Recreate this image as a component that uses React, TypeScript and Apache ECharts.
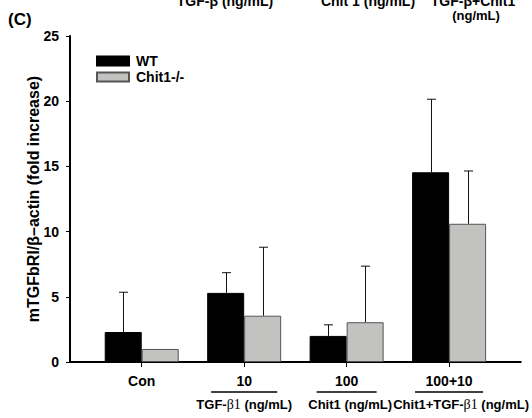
import React, { useEffect, useRef } from "react";
import * as echarts from "echarts";

// Treatment groups along the x axis
const categories = ["Con", "10", "100", "100+10"];
const treatmentNames = ["", "TGF-", "Chit1 (ng/mL)", "Chit1+TGF-"];
const underlineWidths = [0, 66, 60, 68];
const treatmentShift = [0, 0, 7, 24];

const seriesNames = ["WT", "Chit1-/-"];
// mTGFbRI / β-actin, fold increase (mean and SD)
const wtMean = [2.3, 5.3, 2.0, 14.55];
const wtSd = [3.05, 1.55, 0.85, 5.6];
const koMean = [1.0, 3.55, 3.05, 10.6];
const koSd = [0, 5.25, 4.3, 4.05];

const yMin = 0;
const yMax = 25;
const yStep = 5;

const X_MIN = -0.7;
const X_MAX = 3.7;

const FONT = "'Liberation Sans', Arial, sans-serif";
const BAR_W = 37;

export default function App() {
  const ref = useRef<HTMLDivElement>(null);

  useEffect(() => {
    if (!ref.current) return;
    const chart = echarts.init(ref.current, null, { renderer: "svg" });

    const catValues = categories.map((_, i) => i);

    const labelFor = (v: number) => {
      // the two end values only anchor the label row and stay blank
      if (v < -0.5 || v > categories.length - 0.5) return "";
      const i = Math.round(v);
      if (i === 0) return `{c|${categories[0]}}`;
      const name = treatmentNames[i];
      const body = name.endsWith("TGF-")
        ? `{s${i}|${name}}{b|β1}{s|${" (ng/mL)"}}`
        : `{s${i}|${name}}`;
      return `{c|${categories[i]}}\n{ln${i}|}\n${body}`;
    };

    const rich: Record<string, any> = {
      c: { fontFamily: FONT, fontWeight: "bold", fontSize: 14, lineHeight: 16, color: "#000" },
      s: { fontFamily: FONT, fontWeight: "bold", fontSize: 13, lineHeight: 18, color: "#000" },
      b: { fontFamily: "'Liberation Serif', serif", fontWeight: "normal", fontSize: 14, lineHeight: 18, color: "#000" },
    };
    for (let i = 1; i < categories.length; i++) {
      rich["ln" + i] = { width: underlineWidths[i], height: 1.5, backgroundColor: "#000", lineHeight: 6 };
      rich["s" + i] = {
        fontFamily: FONT, fontWeight: "bold", fontSize: 13, lineHeight: 18, color: "#000",
        padding: [0, 0, 0, treatmentShift[i]],
      };
    }

    const errData = [
      ...wtMean.map((m, i) => [i, m, wtSd[i], -1]),
      ...koMean.map((m, i) => [i, m, koSd[i], 1]),
    ];

    chart.setOption({
      animation: false,
      backgroundColor: "#fff",
      textStyle: { fontFamily: FONT },
      grid: { left: 70, right: 9, top: 36, bottom: 56 },
      legend: {
        left: 91,
        top: 49,
        orient: "vertical",
        itemWidth: 32,
        itemHeight: 9,
        itemGap: 2,
        icon: "rect",
        data: seriesNames,
        textStyle: { fontFamily: FONT, fontWeight: "bold", fontSize: 14, color: "#000", padding: [0, 0, 0, 2] },
      },
      xAxis: {
        type: "value",
        min: X_MIN,
        max: X_MAX,
        splitLine: { show: false },
        axisLine: { show: true, onZero: false, lineStyle: { color: "#000", width: 2 } },
        axisTick: { show: true, customValues: catValues, length: 5, lineStyle: { color: "#000", width: 1 } },
        axisLabel: {
          customValues: [X_MIN, ...catValues, X_MAX],
          margin: 11,
          hideOverlap: false,
          formatter: (v: number) => labelFor(v),
          rich,
        },
      },
      yAxis: {
        type: "value",
        min: yMin,
        max: yMax,
        interval: yStep,
        name: "mTGFbRI/β–actin (fold increase)",
        nameLocation: "middle",
        nameGap: 29,
        nameRotate: 90,
        nameMoveOverlap: false,
        nameTextStyle: { fontFamily: FONT, fontWeight: "bold", fontSize: 16, color: "#000" },
        splitLine: { show: false },
        axisLine: { show: true, onZero: false, lineStyle: { color: "#000", width: 2 } },
        axisTick: { show: true, length: 4, lineStyle: { color: "#000", width: 1 } },
        axisLabel: { fontFamily: FONT, fontWeight: "bold", fontSize: 14, color: "#000", margin: 11 },
      },
      graphic: [
        { type: "text", left: 8, top: 11, style: { text: "(C)", font: `bold 17px ${FONT}`, fill: "#000" } },
        { type: "text", x: 225, y: 1, style: { text: "TGF-β (ng/mL)", font: `bold 14px ${FONT}`, fill: "#000", align: "center", verticalAlign: "middle" } },
        { type: "text", x: 368, y: 1, style: { text: "Chit 1 (ng/mL)", font: `bold 14px ${FONT}`, fill: "#000", align: "center", verticalAlign: "middle" } },
        { type: "text", x: 473, y: 1, style: { text: "TGF-β+Chit1", font: `bold 14px ${FONT}`, fill: "#000", align: "center", verticalAlign: "middle" } },
        { type: "text", x: 476, y: 15, style: { text: "(ng/mL)", font: `bold 13px ${FONT}`, fill: "#000", align: "center", verticalAlign: "middle" } },
      ],
      series: [
        {
          name: seriesNames[0],
          type: "bar",
          barWidth: BAR_W,
          barGap: "0%",
          itemStyle: { color: "#000", borderColor: "#000", borderWidth: 1 },
          data: wtMean.map((v, i) => [i, v]),
        },
        {
          name: seriesNames[1],
          type: "bar",
          barWidth: BAR_W,
          barGap: "0%",
          itemStyle: { color: "#c2c2c0", borderColor: "#555", borderWidth: 1 },
          data: koMean.map((v, i) => [i, v]),
        },
        {
          type: "custom",
          z: 5,
          silent: true,
          data: errData,
          encode: { x: 0, y: 1 },
          renderItem: (_params: any, api: any) => {
            const x = api.value(0);
            const mean = api.value(1);
            const sd = api.value(2);
            const side = api.value(3);
            if (!sd) return null;
            const base = api.coord([x, mean]);
            const top = api.coord([x, mean + sd]);
            const px = Math.round(base[0] + (side * BAR_W) / 2) + 0.5;
            const style = { stroke: "#111", lineWidth: 1 };
            return {
              type: "group",
              children: [
                { type: "line", shape: { x1: px, y1: base[1], x2: px, y2: top[1] }, style },
                { type: "line", shape: { x1: px - 4.5, y1: top[1], x2: px + 4.5, y2: top[1] }, style },
              ],
            };
          },
        },
      ],
    });

    return () => chart.dispose();
  }, []);

  return (
    <div
      ref={ref}
      style={{ position: "fixed", left: 0, top: 0, width: 532, height: 418, background: "#fff" }}
    />
  );
}
